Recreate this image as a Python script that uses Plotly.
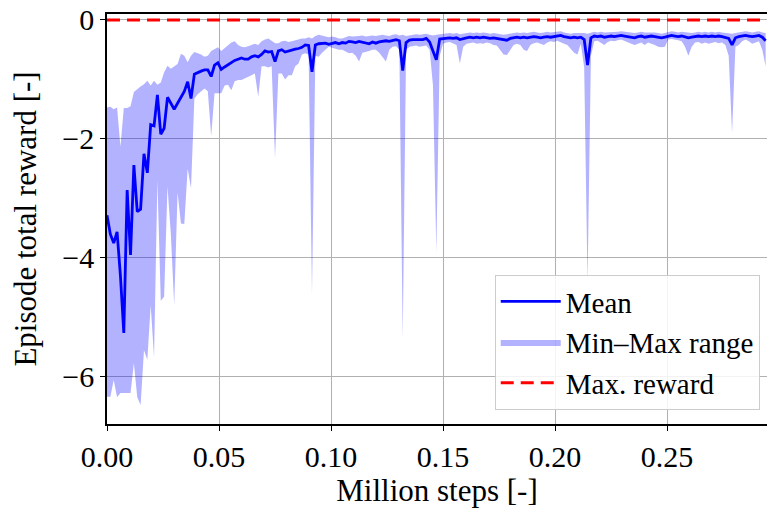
import plotly.graph_objects as go

EVAL_INTERVAL_M = 0.0015  # million steps between evaluations
N_EVAL = 197
steps = [round(EVAL_INTERVAL_M * i, 4) for i in range(N_EVAL)]

reward_mean = [
    -3.28, -3.60, -3.75, -3.56, -4.30, -5.26, -2.86, -3.95, -2.44, -3.22,
    -3.18, -2.25, -2.57, -1.76, -1.78, -1.26, -1.92, -1.82, -1.30, -1.40,
    -1.50, -1.40, -1.30, -1.20, -1.04, -1.32, -0.91, -0.88, -0.86, -0.84,
    -0.84, -0.95, -0.76, -0.72, -0.83, -0.79, -0.75, -0.71, -0.68, -0.66,
    -0.64, -0.66, -0.66, -0.62, -0.60, -0.62, -0.58, -0.52, -0.54, -0.53,
    -0.70, -0.52, -0.50, -0.54, -0.52, -0.50, -0.49, -0.48, -0.46, -0.42,
    -0.43, -0.87, -0.42, -0.40, -0.40, -0.39, -0.41, -0.40, -0.38, -0.40,
    -0.38, -0.39, -0.36, -0.37, -0.38, -0.36, -0.37, -0.38, -0.40, -0.37,
    -0.39, -0.37, -0.36, -0.35, -0.36, -0.34, -0.33, -0.35, -0.85, -0.38,
    -0.34, -0.33, -0.33, -0.32, -0.33, -0.31, -0.37, -0.52, -0.67, -0.32,
    -0.31, -0.31, -0.30, -0.31, -0.30, -0.33, -0.31, -0.30, -0.29, -0.30,
    -0.29, -0.30, -0.29, -0.30, -0.31, -0.30, -0.31, -0.33, -0.34, -0.34,
    -0.31, -0.30, -0.29, -0.30, -0.29, -0.30, -0.29, -0.28, -0.29, -0.30,
    -0.29, -0.28, -0.29, -0.28, -0.27, -0.26, -0.28, -0.29, -0.30, -0.29,
    -0.30, -0.29, -0.33, -0.76, -0.30, -0.27, -0.28, -0.27, -0.29, -0.28,
    -0.27, -0.28, -0.27, -0.26, -0.27, -0.28, -0.29, -0.30, -0.28, -0.27,
    -0.29, -0.28, -0.27, -0.28, -0.29, -0.30, -0.29, -0.27, -0.26, -0.27,
    -0.28, -0.27, -0.28, -0.30, -0.29, -0.28, -0.27, -0.28, -0.27, -0.28,
    -0.27, -0.28, -0.27, -0.28, -0.29, -0.31, -0.42, -0.30, -0.28, -0.27,
    -0.26, -0.27, -0.28, -0.27, -0.26, -0.29, -0.35,
]

reward_max = [
    -1.47, -1.46, -1.50, -1.47, -2.13, -1.48, -1.48, -1.45, -1.21, -1.16,
    -1.12, -1.08, -1.02, -1.10, -1.02, -1.09, -1.05, -0.88, -0.77, -0.82,
    -0.78, -0.74, -0.57, -0.60, -0.71, -0.60, -0.54, -0.56, -0.58, -0.62,
    -0.60, -0.52, -0.49, -0.46, -0.52, -0.47, -0.42, -0.38, -0.36, -0.42,
    -0.45, -0.46, -0.44, -0.42, -0.40, -0.42, -0.36, -0.33, -0.31, -0.35,
    -0.39, -0.39, -0.36, -0.35, -0.37, -0.36, -0.34, -0.33, -0.31, -0.31,
    -0.29, -0.31, -0.27, -0.25, -0.27, -0.28, -0.29, -0.28, -0.29, -0.31,
    -0.31, -0.29, -0.27, -0.28, -0.28, -0.27, -0.26, -0.28, -0.27, -0.26,
    -0.27, -0.26, -0.25, -0.26, -0.27, -0.25, -0.24, -0.26, -0.25, -0.27,
    -0.26, -0.25, -0.24, -0.25, -0.24, -0.23, -0.25, -0.26, -0.25, -0.24,
    -0.24, -0.23, -0.22, -0.23, -0.22, -0.24, -0.23, -0.22, -0.21, -0.22,
    -0.21, -0.22, -0.21, -0.22, -0.23, -0.22, -0.23, -0.24, -0.25, -0.24,
    -0.23, -0.22, -0.21, -0.22, -0.21, -0.22, -0.21, -0.20, -0.21, -0.22,
    -0.21, -0.20, -0.21, -0.20, -0.20, -0.19, -0.21, -0.22, -0.23, -0.22,
    -0.22, -0.21, -0.22, -0.23, -0.22, -0.20, -0.21, -0.20, -0.21, -0.21,
    -0.20, -0.21, -0.20, -0.19, -0.20, -0.21, -0.22, -0.22, -0.21, -0.20,
    -0.21, -0.21, -0.20, -0.21, -0.22, -0.23, -0.22, -0.20, -0.19, -0.20,
    -0.21, -0.20, -0.21, -0.22, -0.22, -0.21, -0.20, -0.21, -0.20, -0.21,
    -0.20, -0.21, -0.20, -0.21, -0.22, -0.22, -0.23, -0.22, -0.21, -0.20,
    -0.19, -0.20, -0.21, -0.20, -0.19, -0.21, -0.22,
]

reward_min = [
    -6.33, -6.33, -6.05, -6.34, -6.27, -6.27, -6.27, -6.27, -5.77, -6.34,
    -6.47, -5.55, -5.71, -4.80, -5.67, -2.70, -4.72, -4.65, -2.80, -3.60,
    -4.80, -2.90, -3.42, -3.43, -2.50, -2.83, -1.32, -1.25, -1.20, -1.15,
    -1.20, -1.95, -1.23, -1.23, -1.23, -1.10, -1.09, -1.18, -1.03, -1.01,
    -1.01, -0.98, -0.96, -0.93, -0.90, -1.29, -0.78, -0.78, -0.80, -0.78,
    -2.32, -0.90, -0.90, -1.00, -0.93, -0.93, -0.78, -0.73, -0.58, -0.56,
    -0.58, -4.60, -0.60, -0.62, -0.55, -0.50, -0.45, -0.47, -0.48, -0.50,
    -0.50, -0.53, -0.56, -0.55, -0.60, -0.70, -0.55, -0.53, -0.52, -0.50,
    -0.50, -0.55, -0.62, -0.70, -0.50, -0.45, -0.44, -0.50, -5.36, -0.50,
    -0.45, -0.44, -0.43, -0.45, -0.44, -0.43, -0.50, -1.10, -3.90, -0.60,
    -0.40, -0.38, -0.37, -0.39, -0.42, -0.73, -0.45, -0.40, -0.39, -0.38,
    -0.40, -0.39, -0.40, -0.38, -0.39, -0.42, -0.43, -0.50, -0.58, -0.59,
    -0.50, -0.42, -0.40, -0.42, -0.50, -0.52, -0.42, -0.39, -0.38, -0.40,
    -0.42, -0.38, -0.36, -0.37, -0.35, -0.38, -0.40, -0.42, -0.48, -0.55,
    -0.58, -0.40, -0.80, -4.42, -0.60, -0.36, -0.35, -0.38, -0.42, -0.37,
    -0.35, -0.36, -0.34, -0.33, -0.35, -0.38, -0.40, -0.42, -0.40, -0.38,
    -0.42, -0.38, -0.40, -0.42, -0.45, -0.46, -0.45, -0.33, -0.32, -0.33,
    -0.34, -0.36, -0.45, -0.60, -0.45, -0.38, -0.37, -0.40, -0.38, -0.40,
    -0.38, -0.37, -0.39, -0.38, -0.42, -0.60, -1.90, -0.45, -0.42, -0.36,
    -0.33, -0.36, -0.40, -0.38, -0.36, -0.50, -0.78,
]

MAX_REWARD = 0.0
x_ticks = [0.0, 0.05, 0.10, 0.15, 0.20, 0.25]
x_tick_labels = ["0.00", "0.05", "0.10", "0.15", "0.20", "0.25"]
y_ticks = [0, -2, -4, -6]
y_tick_labels = ["0", "\u22122", "\u22124", "\u22126"]
X_RANGE = [0.0, 0.2946]
Y_RANGE = [-6.79, 0.10]

FONT = "Liberation Serif"

fig = go.Figure()

fig.add_trace(go.Scatter(
    x=steps + steps[::-1],
    y=reward_max + reward_min[::-1],
    fill="toself",
    fillcolor="rgba(0,0,255,0.3)",
    line=dict(width=0, color="rgba(0,0,255,0)"),
    mode="lines",
    name="Min\u2013Max range",
    legendrank=2,
    hoverinfo="skip",
))

fig.add_trace(go.Scatter(
    x=steps, y=reward_mean, mode="lines",
    line=dict(color="#0000ff", width=2.8),
    name="Mean", legendrank=1,
))

fig.add_trace(go.Scatter(
    x=X_RANGE, y=[MAX_REWARD, MAX_REWARD], mode="lines",
    line=dict(color="#ff0000", width=3, dash="13px,7px"),
    name="Max. reward", legendrank=3,
))

axis_common = dict(
    showgrid=True, gridcolor="#b0b0b0", gridwidth=1,
    showline=True, linecolor="black", linewidth=1.5,
    ticks="outside", ticklen=5, tickwidth=1.2, tickcolor="black",
    zeroline=False,
    tickfont=dict(family=FONT, size=30, color="black"),
)

fig.update_layout(
    width=767, height=509,
    margin=dict(l=107, r=0, t=14, b=85),
    paper_bgcolor="white", plot_bgcolor="white",
    font=dict(family=FONT, size=30, color="black"),
    xaxis=dict(
        range=X_RANGE, tickvals=x_ticks, ticktext=x_tick_labels,
        mirror=True,
        title=dict(text="Million steps [-]", font=dict(family=FONT, size=31), standoff=4),
        **axis_common,
    ),
    yaxis=dict(
        range=Y_RANGE, tickvals=y_ticks, ticktext=y_tick_labels,
        title=dict(text="Episode total reward [-]", font=dict(family=FONT, size=31), standoff=16),
        **axis_common,
    ),
    legend=dict(
        x=0.989, y=0.034, xanchor="right", yanchor="bottom",
        bgcolor="rgba(255,255,255,0.85)", bordercolor="#cccccc", borderwidth=1,
        font=dict(family=FONT, size=29, color="black"),
        itemwidth=60,
        tracegroupgap=0,
    ),
    showlegend=True,
)

fig.write_html("out.html")
